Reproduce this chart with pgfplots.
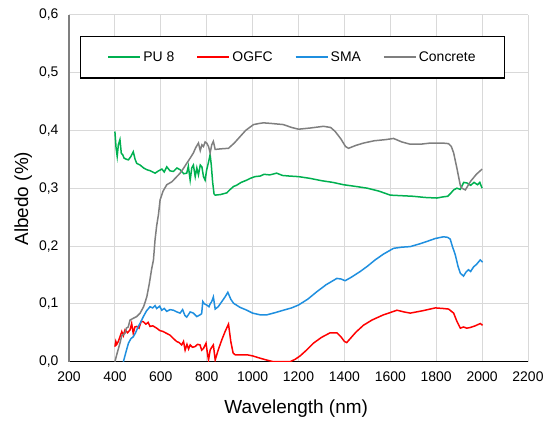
\documentclass[border=0pt]{standalone}
\usepackage{pgfplots}
\pgfplotsset{compat=1.18}
\usepackage{fontspec}
\setmainfont{Liberation Sans}
\definecolor{cgreen}{HTML}{00B050}
\definecolor{cred}{HTML}{FF0000}
\definecolor{cblue}{HTML}{1F8FDF}
\definecolor{cgray}{HTML}{7F7F7F}
\definecolor{cgrid}{HTML}{D9D9D9}
\begin{document}
\begin{tikzpicture}
\begin{axis}[
  name=ax,
  scale only axis, width=459bp, height=347bp,
  xmin=200, xmax=2200, ymin=0, ymax=0.6,
  xtick={200,400,...,2200}, ytick={0,0.1,0.2,0.3,0.4,0.5,0.6},
  grid=major, major grid style={color=cgrid, line width=1bp},
  axis x line*=bottom, axis y line*=left,
  x axis line style={black, line width=1.3bp},
  y axis line style={cgray, line width=1.6bp},
  major tick length=0pt,
  tick label style={font=\fontsize{14}{16}\selectfont},
  /pgf/number format/assume math mode=true,
  yticklabel style={/pgf/number format/.cd, fixed, fixed zerofill, precision=1, use comma, /tikz/.cd, xshift=-7bp},
  xticklabel style={/pgf/number format/.cd, fixed, set thousands separator={}, /tikz/.cd, yshift=-6.5bp},
  xlabel={Wavelength (nm)}, ylabel={Albedo (\%)},
  label style={font=\fontsize{19}{22}\selectfont},
  xlabel style={at={(axis description cs:0.495,0)}, anchor=base, yshift=-52.3bp},
  ylabel style={at={(axis description cs:-0.0893,0.47)}, anchor=base},
  legend columns=4,
  legend image code/.code={\draw[#1,line width=2bp] (0bp,0bp) -- (32bp,0bp);},
  legend style={at={(0.4869,0.8767)}, anchor=center, draw=black, line width=1.2bp,
    inner xsep=27bp, inner ysep=13bp, font=\fontsize{14}{16}\selectfont,
    /tikz/every even column/.append style={column sep=20bp}},
  every axis plot/.append style={line width=1.5bp},
]
\addplot[cgreen] coordinates {(400,0.398)(405,0.37)(410,0.355)(415,0.375)(422,0.384)(428,0.36)(434,0.358)(440,0.352)(450,0.35)(459,0.349)(470,0.355)(480,0.363)(488,0.35)(495,0.343)(510,0.34)(525,0.335)(539,0.332)(555,0.33)(575,0.326)(590,0.33)(605,0.333)(615,0.328)(626,0.337)(640,0.33)(655,0.329)(670,0.335)(684,0.332)(700,0.325)(713,0.326)(720,0.338)(728,0.314)(735,0.335)(742,0.340)(750,0.32)(757,0.335)(764,0.323)(772,0.34)(779,0.337)(786,0.32)(793,0.314)(800,0.332)(808,0.345)(815,0.358)(820,0.340)(826,0.31)(832,0.29)(837,0.288)(860,0.289)(888,0.292)(900,0.297)(917,0.303)(930,0.305)(950,0.31)(975,0.314)(990,0.317)(1010,0.320)(1033,0.321)(1050,0.324)(1075,0.323)(1105,0.326)(1130,0.322)(1160,0.321)(1200,0.320)(1250,0.317)(1300,0.313)(1350,0.310)(1396,0.306)(1450,0.303)(1500,0.300)(1550,0.295)(1600,0.288)(1650,0.287)(1700,0.286)(1750,0.284)(1803,0.283)(1830,0.285)(1850,0.286)(1865,0.292)(1876,0.297)(1890,0.300)(1905,0.298)(1920,0.310)(1934,0.309)(1950,0.305)(1965,0.310)(1980,0.306)(1990,0.310)(2000,0.300)};
\addlegendentry{PU 8}
\addplot[cred] coordinates {(400,0.026)(404,0.035)(408,0.030)(415,0.035)(422,0.043)(430,0.052)(437,0.045)(444,0.055)(455,0.050)(466,0.055)(473,0.066)(480,0.049)(487,0.060)(495,0.061)(505,0.058)(515,0.070)(524,0.069)(535,0.065)(545,0.068)(553,0.061)(565,0.062)(582,0.058)(595,0.054)(611,0.052)(625,0.049)(640,0.046)(655,0.040)(669,0.035)(680,0.033)(691,0.029)(699,0.035)(706,0.020)(714,0.030)(721,0.022)(728,0.029)(738,0.025)(749,0.026)(760,0.030)(771,0.029)(778,0.020)(786,0.023)(797,0.032)(803,0.015)(808,0.003)(815,0.020)(822,0.025)(829,0.029)(837,0.003)(850,0.020)(866,0.038)(880,0.052)(895,0.065)(905,0.035)(915,0.015)(924,0.012)(950,0.012)(975,0.012)(1000,0.010)(1033,0.006)(1060,0.003)(1090,0.0)(1130,0.0)(1163,0.0)(1185,0.004)(1207,0.010)(1235,0.020)(1265,0.032)(1300,0.042)(1338,0.050)(1367,0.050)(1385,0.043)(1400,0.035)(1410,0.033)(1430,0.042)(1450,0.051)(1483,0.063)(1520,0.072)(1570,0.081)(1600,0.085)(1629,0.089)(1660,0.086)(1687,0.084)(1740,0.088)(1796,0.093)(1830,0.092)(1854,0.091)(1876,0.084)(1890,0.070)(1905,0.058)(1919,0.060)(1933,0.058)(1948,0.059)(1970,0.062)(1992,0.066)(2002,0.063)};
\addlegendentry{OGFC}
\addplot[cblue] coordinates {(437,0.0)(447,0.015)(459,0.032)(470,0.040)(480,0.043)(490,0.050)(502,0.061)(512,0.068)(524,0.078)(538,0.088)(553,0.095)(565,0.093)(575,0.097)(582,0.092)(595,0.096)(604,0.089)(615,0.092)(626,0.087)(640,0.090)(655,0.089)(670,0.086)(684,0.084)(695,0.090)(705,0.080)(713,0.077)(728,0.086)(742,0.084)(757,0.078)(771,0.081)(778,0.083)(783,0.104)(790,0.100)(800,0.098)(810,0.095)(815,0.100)(822,0.104)(829,0.112)(837,0.091)(850,0.095)(866,0.104)(880,0.112)(892,0.120)(905,0.108)(917,0.101)(945,0.094)(975,0.089)(1000,0.084)(1033,0.081)(1062,0.081)(1100,0.085)(1134,0.089)(1170,0.093)(1200,0.098)(1240,0.108)(1280,0.121)(1320,0.133)(1367,0.144)(1385,0.143)(1403,0.140)(1430,0.146)(1469,0.156)(1500,0.165)(1534,0.176)(1570,0.186)(1614,0.196)(1650,0.198)(1687,0.199)(1730,0.204)(1760,0.208)(1796,0.213)(1832,0.216)(1850,0.215)(1861,0.212)(1870,0.200)(1883,0.185)(1895,0.165)(1905,0.153)(1919,0.148)(1930,0.155)(1941,0.159)(1950,0.156)(1963,0.164)(1975,0.168)(1992,0.176)(2002,0.172)};
\addlegendentry{SMA}
\addplot[cgray] coordinates {(400,0.0)(410,0.015)(422,0.032)(430,0.045)(444,0.049)(450,0.058)(458,0.06)(466,0.072)(480,0.075)(495,0.078)(510,0.084)(525,0.095)(539,0.112)(550,0.135)(560,0.160)(568,0.176)(575,0.211)(582,0.235)(590,0.255)(597,0.280)(610,0.295)(626,0.306)(648,0.311)(665,0.318)(684,0.326)(700,0.335)(713,0.343)(728,0.352)(742,0.361)(752,0.37)(764,0.378)(772,0.365)(779,0.375)(786,0.372)(793,0.380)(800,0.378)(808,0.372)(815,0.361)(822,0.375)(829,0.381)(837,0.367)(860,0.368)(895,0.369)(920,0.378)(945,0.389)(970,0.400)(1004,0.410)(1030,0.412)(1047,0.413)(1080,0.412)(1134,0.410)(1170,0.405)(1200,0.402)(1250,0.404)(1309,0.407)(1340,0.405)(1360,0.398)(1385,0.385)(1405,0.372)(1418,0.369)(1450,0.374)(1483,0.378)(1530,0.382)(1580,0.384)(1614,0.386)(1650,0.380)(1687,0.376)(1730,0.376)(1774,0.378)(1830,0.378)(1854,0.377)(1866,0.372)(1876,0.361)(1890,0.335)(1905,0.305)(1912,0.300)(1927,0.297)(1950,0.312)(1975,0.324)(2000,0.333)};
\addlegendentry{Concrete}
\coordinate (BL) at (rel axis cs:0,0);
\coordinate (TR) at (rel axis cs:1,1);
\end{axis}
\pgfresetboundingbox
\path[use as bounding box] ([shift={(-69bp,-65.3bp)}]BL) rectangle ([shift={(22bp,14.7bp)}]TR);
\end{tikzpicture}
\end{document}
